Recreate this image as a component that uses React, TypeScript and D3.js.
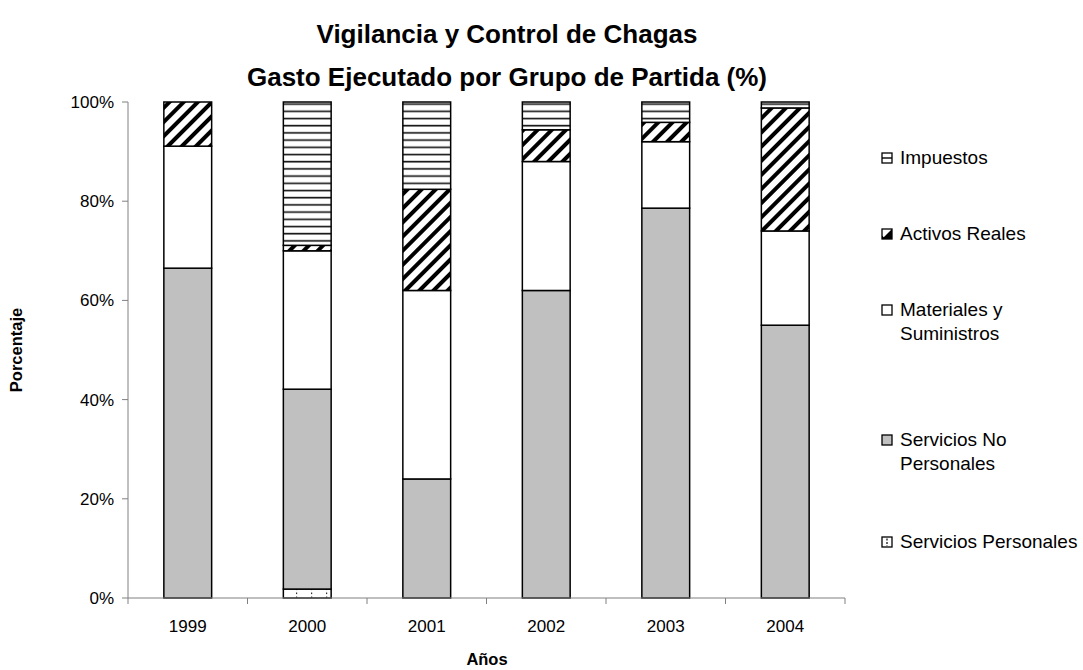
import React, { useEffect, useRef } from "react";
import * as d3 from "d3";

// Spending by budget group, percentage of each year's total
const years = ["1999", "2000", "2001", "2002", "2003", "2004"];
const serviciosPersonales = [0, 1.8, 0, 0, 0, 0];
const serviciosNoPersonales = [66.5, 40.3, 24.0, 62.0, 78.6, 55.0];
const materialesSuministros = [24.6, 27.9, 38.0, 26.0, 13.4, 19.0];
const activosReales = [8.9, 1.1, 20.4, 6.4, 3.9, 24.8];
const impuestos = [0, 28.9, 17.6, 5.6, 4.1, 1.2];

const seriesKeys = ["sp", "snp", "mat", "act", "imp"];
const seriesLabels: Record<string, string[]> = {
  sp: ["Servicios Personales"],
  snp: ["Servicios No", "Personales"],
  mat: ["Materiales y", "Suministros"],
  act: ["Activos Reales"],
  imp: ["Impuestos"],
};
const yTicks = [0, 0.2, 0.4, 0.6, 0.8, 1];

const W = 1083;
const H = 670;
const M = { left: 128, right: 845, top: 102, bottom: 598 };
const FONT = "Arial, 'Liberation Sans', Helvetica, sans-serif";

export default function App() {
  const ref = useRef<SVGSVGElement | null>(null);

  useEffect(() => {
    const svg = d3.select(ref.current);
    svg.selectAll("*").remove();

    const rows = years.map((y, i) => ({
      year: y,
      sp: serviciosPersonales[i],
      snp: serviciosNoPersonales[i],
      mat: materialesSuministros[i],
      act: activosReales[i],
      imp: impuestos[i],
    }));

    const stacked = d3
      .stack<any>()
      .keys(seriesKeys)
      .offset(d3.stackOffsetExpand)(rows);

    const x = d3.scaleBand().domain(years).range([M.left, M.right]).paddingInner(0.6).paddingOuter(0.3);
    const xOuter = d3.scaleBand().domain(years).range([M.left, M.right]);
    const y = d3.scaleLinear().domain([0, 1]).range([M.bottom, M.top]);

    // fill patterns
    const defs = svg.append("defs");
    const pImp = defs
      .append("pattern")
      .attr("id", "pat-imp")
      .attr("patternUnits", "userSpaceOnUse")
      .attr("width", 10)
      .attr("height", 7.2);
    pImp.append("rect").attr("width", 10).attr("height", 7.2).attr("fill", "#fff");
    pImp.append("rect").attr("y", 2.5).attr("width", 10).attr("height", 1.6).attr("fill", "#111");

    const pAct = defs
      .append("pattern")
      .attr("id", "pat-act")
      .attr("patternUnits", "userSpaceOnUse")
      .attr("width", 10)
      .attr("height", 10)
      .attr("patternTransform", "rotate(45)");
    pAct.append("rect").attr("width", 10).attr("height", 10).attr("fill", "#fff");
    pAct.append("rect").attr("width", 4).attr("height", 10).attr("fill", "#000");

    const pSp = defs
      .append("pattern")
      .attr("id", "pat-sp")
      .attr("patternUnits", "userSpaceOnUse")
      .attr("x", 4)
      .attr("width", 15)
      .attr("height", 4);
    pSp.append("rect").attr("width", 15).attr("height", 4).attr("fill", "#fff");
    pSp.append("rect").attr("x", 7).attr("y", 0.5).attr("width", 1.2).attr("height", 1.6).attr("fill", "#333");

    const fills: Record<string, string> = {
      sp: "url(#pat-sp)",
      snp: "#c0c0c0",
      mat: "#ffffff",
      act: "url(#pat-act)",
      imp: "url(#pat-imp)",
    };

    // stacked bars
    const g = svg.append("g");
    stacked.forEach((layer) => {
      g.append("g")
        .selectAll("rect")
        .data(layer.filter((d) => d[1] - d[0] > 0))
        .join("rect")
        .attr("x", (d: any) => x(d.data.year)!)
        .attr("width", x.bandwidth())
        .attr("y", (d) => y(d[1]))
        .attr("height", (d) => y(d[0]) - y(d[1]))
        .attr("fill", fills[layer.key])
        .attr("stroke", "#000")
        .attr("stroke-width", 1.5);
    });

    // y axis
    const yAxis = svg.append("g");
    yAxis
      .append("line")
      .attr("x1", M.left)
      .attr("x2", M.left)
      .attr("y1", M.top)
      .attr("y2", M.bottom)
      .attr("stroke", "#808080")
      .attr("stroke-width", 1);
    yTicks.forEach((t) => {
      yAxis
        .append("line")
        .attr("x1", M.left - 6)
        .attr("x2", M.left)
        .attr("y1", y(t))
        .attr("y2", y(t))
        .attr("stroke", "#808080");
      yAxis
        .append("text")
        .attr("x", M.left - 14)
        .attr("y", y(t))
        .attr("dy", "0.35em")
        .attr("text-anchor", "end")
        .attr("font-family", FONT)
        .attr("font-size", 17)
        .attr("fill", "#000")
        .text(d3.format(".0%")(t));
    });

    // x axis
    const xAxis = svg.append("g");
    xAxis
      .append("line")
      .attr("x1", M.left)
      .attr("x2", M.right)
      .attr("y1", M.bottom)
      .attr("y2", M.bottom)
      .attr("stroke", "#808080");
    const bounds = years.map((yr) => xOuter(yr)!).concat([M.right]);
    bounds.forEach((bx) => {
      xAxis
        .append("line")
        .attr("x1", bx)
        .attr("x2", bx)
        .attr("y1", M.bottom)
        .attr("y2", M.bottom + 6)
        .attr("stroke", "#808080");
    });
    years.forEach((yr) => {
      xAxis
        .append("text")
        .attr("x", xOuter(yr)! + xOuter.bandwidth() / 2)
        .attr("y", 632)
        .attr("text-anchor", "middle")
        .attr("font-family", FONT)
        .attr("font-size", 17)
        .text(yr);
    });

    // axis titles
    svg
      .append("text")
      .attr("x", 487)
      .attr("y", 665)
      .attr("text-anchor", "middle")
      .attr("font-family", FONT)
      .attr("font-size", 16.5)
      .attr("font-weight", "bold")
      .text("Años");
    svg
      .append("text")
      .attr("transform", "translate(22,350) rotate(-90)")
      .attr("text-anchor", "middle")
      .attr("font-family", FONT)
      .attr("font-size", 16.5)
      .attr("font-weight", "bold")
      .text("Porcentaje");

    // title
    const title = svg
      .append("text")
      .attr("text-anchor", "middle")
      .attr("font-family", FONT)
      .attr("font-size", 26)
      .attr("font-weight", "bold");
    title.append("tspan").attr("x", 507).attr("y", 43).text("Vigilancia y Control de Chagas");
    title.append("tspan").attr("x", 507).attr("y", 86).text("Gasto Ejecutado por Grupo de Partida (%)");

    // legend
    const legendRows = [
      { key: "imp", y: 157 },
      { key: "act", y: 233 },
      { key: "mat", y: 309 },
      { key: "snp", y: 439 },
      { key: "sp", y: 541 },
    ];
    const lg = svg.append("g");
    legendRows.forEach(({ key, y: ly }) => {
      const sx = 882;
      const s = 10;
      const sy = ly - s / 2 + 1;
      const base = key === "snp" ? "#c0c0c0" : "#fff";
      lg.append("rect").attr("x", sx).attr("y", sy).attr("width", s).attr("height", s).attr("fill", base);
      if (key === "imp") {
        lg.append("line").attr("x1", sx).attr("x2", sx + s).attr("y1", sy + s / 2).attr("y2", sy + s / 2).attr("stroke", "#000").attr("stroke-width", 1.4);
      }
      if (key === "act") {
        lg.append("path")
          .attr("d", `M${sx},${sy + s}L${sx + s},${sy}L${sx + s},${sy + s}Z`)
          .attr("fill", "#000");
        lg.append("path")
          .attr("d", `M${sx},${sy + s}L${sx},${sy + s - 3.5}L${sx + 3.5},${sy + s}Z`)
          .attr("fill", "#000");
      }
      if (key === "sp") {
        lg.append("line").attr("x1", sx + s / 2).attr("x2", sx + s / 2).attr("y1", sy + 1.5).attr("y2", sy + s - 1).attr("stroke", "#000").attr("stroke-width", 1.2).attr("stroke-dasharray", "2,1.5");
      }
      lg.append("rect").attr("x", sx).attr("y", sy).attr("width", s).attr("height", s).attr("fill", "none").attr("stroke", "#000").attr("stroke-width", 1.3);

      const lines = seriesLabels[key];
      const t = lg
        .append("text")
        .attr("font-family", FONT)
        .attr("font-size", 19)
        .attr("fill", "#000");
      lines.forEach((ln, i) => {
        t.append("tspan").attr("x", 900).attr("y", ly + 7 + i * 24).text(ln);
      });
    });
  }, []);

  return (
    <div style={{ position: "absolute", left: 0, top: 0, width: W, height: H, background: "#fff" }}>
      <svg ref={ref} width={W} height={H} style={{ display: "block" }} />
    </div>
  );
}
